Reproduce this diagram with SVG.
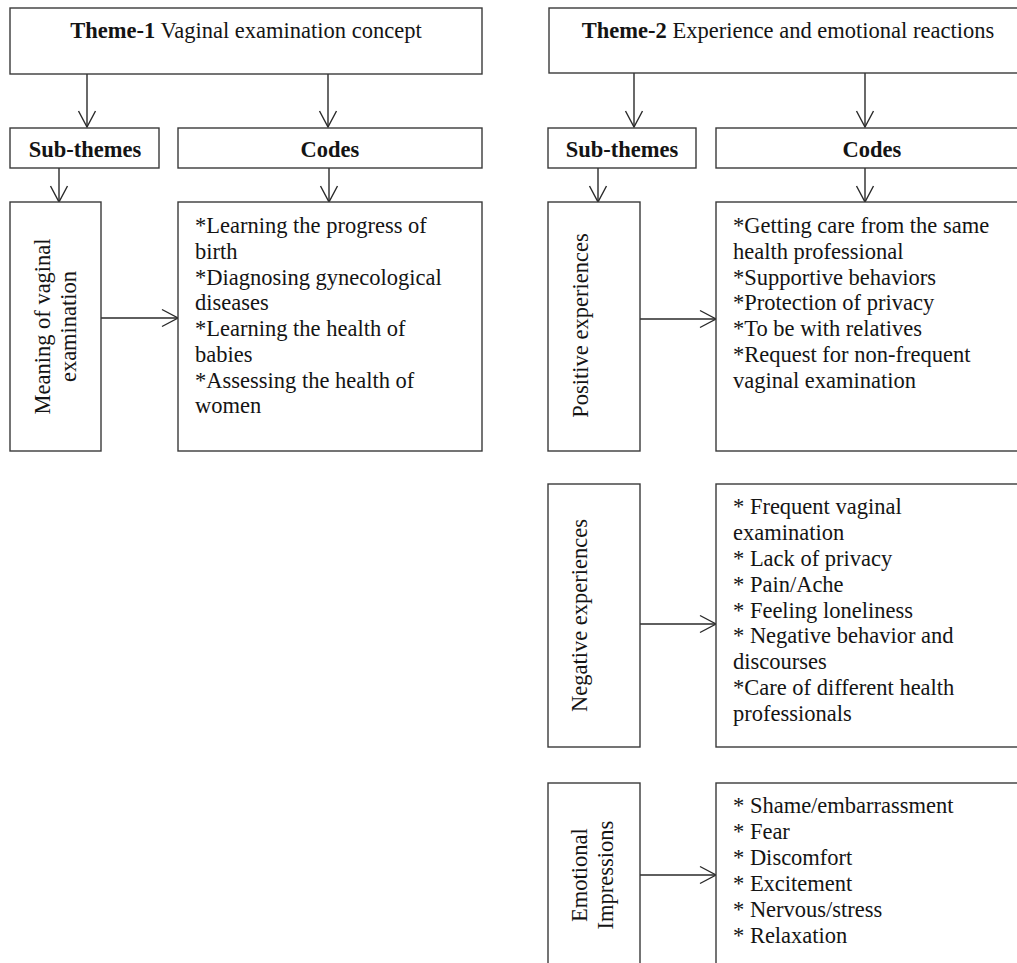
<svg xmlns="http://www.w3.org/2000/svg" width="1017" height="963" viewBox="0 0 1017 963">
<style>
.box{fill:#fff;stroke:#3a3a3a;stroke-width:1.4}
.t{font-family:"Liberation Serif","Times New Roman",serif;font-size:22.5px;fill:#141414}
.b{font-weight:bold}
.c{text-anchor:middle}
.con{stroke:#2a2a2a;stroke-width:1.4;fill:none;marker-end:url(#ah)}
</style>
<defs>
<marker id="ah" markerUnits="userSpaceOnUse" markerWidth="20" markerHeight="20" viewBox="-18 -10 20 20" refX="0" refY="0" orient="auto">
<path d="M-16,-8.5 L0,0 L-16,8.5" fill="none" stroke="#2a2a2a" stroke-width="1.4"/>
</marker>
</defs>
<rect width="1017" height="963" fill="#fff"/>
<g id="connectors">
<path class="con" d="M87,74 V127"/>
<path class="con" d="M328,74 V127"/>
<path class="con" d="M59,168 V202"/>
<path class="con" d="M329,168 V202"/>
<path class="con" d="M101,318 H178"/>
<path class="con" d="M634,73 V127"/>
<path class="con" d="M865,73 V127"/>
<path class="con" d="M598,168 V202"/>
<path class="con" d="M865,168 V202"/>
<path class="con" d="M640,319 H716"/>
<path class="con" d="M640,624 H716"/>
<path class="con" d="M640,875 H716"/>
</g>
<g id="theme1">
<rect class="box" x="10" y="8" width="472" height="66"/>
<text class="t c" x="246" y="38"><tspan class="b">Theme-1</tspan> Vaginal examination concept</text>
</g>
<g id="subthemes1">
<rect class="box" x="10" y="128" width="149" height="40"/>
<text class="t b c" x="85" y="157">Sub-themes</text>
</g>
<g id="codes1-header">
<rect class="box" x="178" y="128" width="304" height="40"/>
<text class="t b c" x="330" y="157">Codes</text>
</g>
<g id="meaning">
<rect class="box" x="10" y="202" width="91" height="249"/>
<text class="t c" transform="translate(50,326.5) rotate(-90)">Meaning of vaginal</text>
<text class="t c" transform="translate(76,326.5) rotate(-90)">examination</text>
</g>
<g id="codes1">
<rect class="box" x="178" y="202" width="304" height="249"/>
<text class="t" x="195" y="233">*Learning the progress of</text>
<text class="t" x="195" y="258.5">birth</text>
<text class="t" x="195" y="284.5">*Diagnosing gynecological</text>
<text class="t" x="195" y="310">diseases</text>
<text class="t" x="195" y="336">*Learning the health of</text>
<text class="t" x="195" y="361.5">babies</text>
<text class="t" x="195" y="387.5">*Assessing the health of</text>
<text class="t" x="195" y="413">women</text>
</g>
<g id="theme2">
<rect class="box" x="549" y="8" width="479" height="65"/>
<text class="t c" x="788" y="38"><tspan class="b">Theme-2</tspan> Experience and emotional reactions</text>
</g>
<g id="subthemes2">
<rect class="box" x="548" y="128" width="148" height="40"/>
<text class="t b c" x="622" y="157">Sub-themes</text>
</g>
<g id="codes2-header">
<rect class="box" x="716" y="128" width="312" height="40"/>
<text class="t b c" x="872" y="157">Codes</text>
</g>
<g id="positive">
<rect class="box" x="548" y="202" width="92" height="249"/>
<text class="t c" transform="translate(588,325.5) rotate(-90)">Positive experiences</text>
</g>
<g id="codes2">
<rect class="box" x="716" y="202" width="312" height="249"/>
<text class="t" x="733" y="233">*Getting care from the same</text>
<text class="t" x="733" y="258.5">health professional</text>
<text class="t" x="733" y="284.5">*Supportive behaviors</text>
<text class="t" x="733" y="310">*Protection of privacy</text>
<text class="t" x="733" y="336">*To be with relatives</text>
<text class="t" x="733" y="361.5">*Request for non-frequent</text>
<text class="t" x="733" y="387.5">vaginal examination</text>
</g>
<g id="negative">
<rect class="box" x="548" y="484" width="92" height="263"/>
<text class="t c" transform="translate(587,615.5) rotate(-90)">Negative experiences</text>
</g>
<g id="codes3">
<rect class="box" x="716" y="484" width="312" height="263"/>
<text class="t" x="733" y="514">* Frequent vaginal</text>
<text class="t" x="733" y="540">examination</text>
<text class="t" x="733" y="566">* Lack of privacy</text>
<text class="t" x="733" y="591.5">* Pain/Ache</text>
<text class="t" x="733" y="617.5">* Feeling loneliness</text>
<text class="t" x="733" y="643">* Negative behavior and</text>
<text class="t" x="733" y="669">discourses</text>
<text class="t" x="733" y="695">*Care of different health</text>
<text class="t" x="733" y="721">professionals</text>
</g>
<g id="emotional">
<rect class="box" x="548" y="783" width="92" height="190"/>
<text class="t c" transform="translate(587,875) rotate(-90)">Emotional</text>
<text class="t c" transform="translate(613,875) rotate(-90)">Impressions</text>
</g>
<g id="codes4">
<rect class="box" x="716" y="783" width="312" height="190"/>
<text class="t" x="733" y="813">* Shame/embarrassment</text>
<text class="t" x="733" y="839">* Fear</text>
<text class="t" x="733" y="865">* Discomfort</text>
<text class="t" x="733" y="891">* Excitement</text>
<text class="t" x="733" y="917">* Nervous/stress</text>
<text class="t" x="733" y="943">* Relaxation</text>
</g>
</svg>
